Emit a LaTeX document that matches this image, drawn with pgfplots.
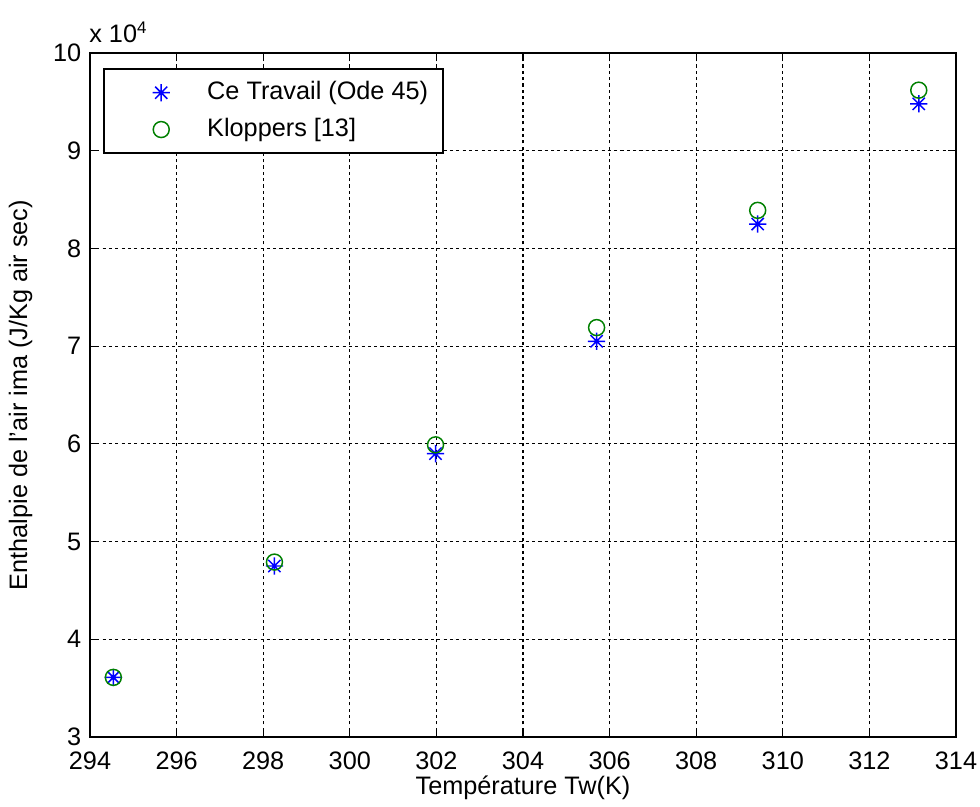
\documentclass[border=0pt,12pt]{standalone}
\usepackage{fontspec}
\setmainfont{Liberation Sans}
\usepackage{pgfplots}
\pgfplotsset{compat=1.18}
\pgfdeclareplotmark{mstar}{%
  \pgfpathmoveto{\pgfqpoint{-\pgfplotmarksize}{0pt}}\pgfpathlineto{\pgfqpoint{\pgfplotmarksize}{0pt}}%
  \pgfpathmoveto{\pgfqpoint{0pt}{-\pgfplotmarksize}}\pgfpathlineto{\pgfqpoint{0pt}{\pgfplotmarksize}}%
  \pgfpathmoveto{\pgfqpoint{-0.7071\pgfplotmarksize}{-0.7071\pgfplotmarksize}}\pgfpathlineto{\pgfqpoint{0.7071\pgfplotmarksize}{0.7071\pgfplotmarksize}}%
  \pgfpathmoveto{\pgfqpoint{-0.7071\pgfplotmarksize}{0.7071\pgfplotmarksize}}\pgfpathlineto{\pgfqpoint{0.7071\pgfplotmarksize}{-0.7071\pgfplotmarksize}}%
  \pgfusepathqstroke}
\definecolor{mgreen}{rgb}{0,0.5,0}
\pgfplotsset{myleg/.style={legend image code/.code={\path (0pt,0pt) (41.5pt,0pt); \draw[##1] plot coordinates {(22pt,0pt)};}}}
\begin{document}
\begin{tikzpicture}
\begin{axis}[
  scale only axis, width=411.4pt, height=324.9pt,
  xmin=294, xmax=314, ymin=30000, ymax=100000,
  xtick={294,296,...,314}, ytick={30000,40000,...,100000},
  scaled y ticks=base 10:-4,
  ytick scale label code/.code={x 10\textsuperscript{4}},
  every y tick scale label/.style={at={(rel axis cs:0,1)}, anchor=south west, inner sep=0pt, xshift=-0.5pt, yshift=4.5pt},
  /pgf/number format/assume math mode=true,
  /pgf/number format/1000 sep={},
  tick align=inside, tick pos=both,
  major tick length=3.8pt,
  tick style={black, line width=0.6pt},
  axis line style={line width=0.9pt},
  grid=major,
  grid style={black, line width=0.5pt, dash pattern=on 1.5pt off 1.5pt},
  xlabel={Température Tw(K)},
  ylabel={Enthalpie de l'air ima (J/Kg air sec)},
  xticklabel style={yshift=-3pt},
  xlabel style={yshift=5.5pt},
  ylabel style={yshift=1.6pt},
  legend style={at={(0.0147,0.978)}, anchor=north west, draw=black, line width=0.9pt,
    inner xsep=5pt, inner ysep=4pt, row sep=3pt,
    nodes={inner xsep=2pt}},
  legend cell align=left,
  clip=false,
]
\coordinate (bl) at (rel axis cs:0,0);
\coordinate (tr) at (rel axis cs:1,1);
\addplot[only marks, mark=mstar, mark size=4.1pt, blue, line width=0.7pt, myleg] coordinates {
  (294.54,36100) (298.26,47500) (301.98,59000) (305.70,70500) (309.42,82500) (313.14,94800)
};
\addlegendentry{Ce Travail (Ode 45)}
\addplot[only marks, mark=o, mark size=3.8pt, mgreen, line width=0.7pt, myleg] coordinates {
  (294.54,36100) (298.26,47900) (301.98,59900) (305.70,71900) (309.42,83900) (313.14,96200)
};
\addlegendentry{Kloppers [13]}
\end{axis}
\pgfresetboundingbox
\path ([shift={(-42.75pt,-33.25pt)}]bl) rectangle ([shift={(11.4pt,25.2pt)}]tr);
\end{tikzpicture}
\end{document}
